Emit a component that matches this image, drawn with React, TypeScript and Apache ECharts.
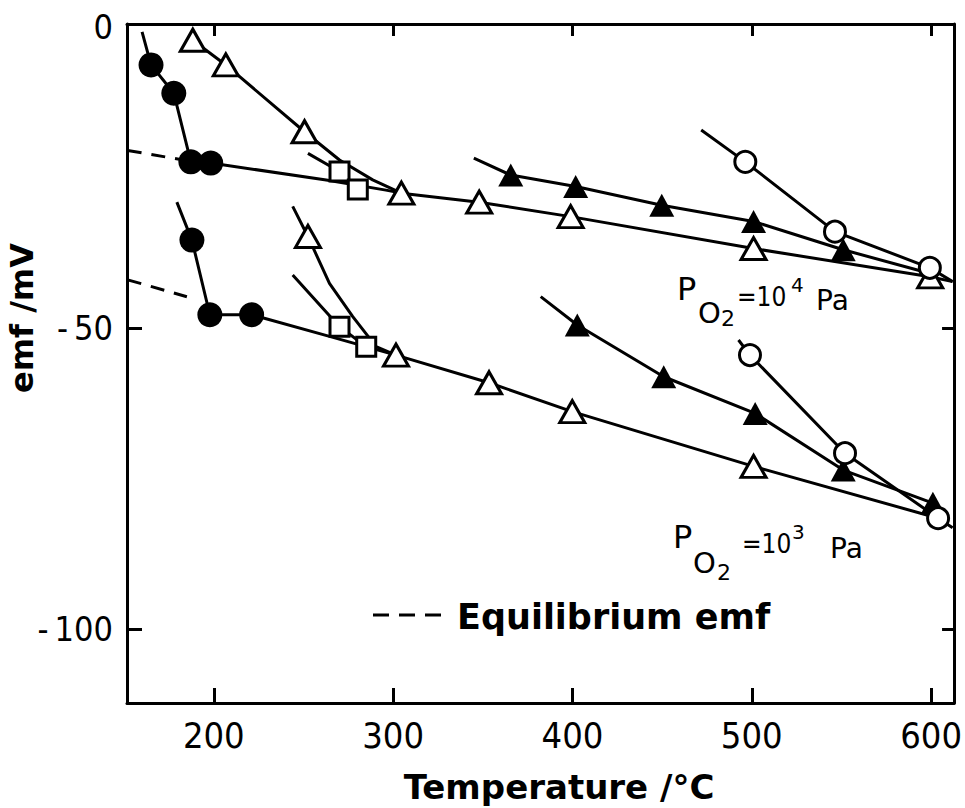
import React, { useEffect, useRef } from "react";
import * as echarts from "echarts";

// Each curve: [temperature °C, emf mV, 1 = measured point marker / 0 = curve vertex only]
const upFilledCircles = [[160, -0.8, 0], [165, -6.3, 1], [177.7, -11, 1], [187.2, -22.4, 1], [198.3, -22.6, 1], [262.7, -25.4, 0], [296, -27.1, 0], [304.6, -27.6, 0]];
const upOpenTriangles = [[188.3, -2.2, 1], [206.7, -6.3, 1], [250.6, -17.4, 1], [270.1, -22.1, 0], [288.6, -25.4, 0], [304.6, -27.6, 1], [348, -29.1, 1], [399, -31.5, 1], [501, -36.8, 1], [599.5, -41.5, 1], [612, -42.3, 0]];
const upSquares = [[252.5, -21, 0], [270.1, -24, 1], [280.3, -27, 1]];
const upFilledTriangles = [[345, -21.8, 0], [365.6, -24.6, 1], [401.8, -26.5, 1], [449.8, -29.6, 1], [501, -32.3, 1], [551, -37, 1], [600, -41, 0]];
const upOpenCircles = [[471.8, -17.1, 0], [496.4, -22.4, 1], [546.4, -34, 1], [599.3, -40, 1], [612, -42.3, 0]];
const upEquilibrium = [[152, -20.5], [185, -22.2]];

const loFilledCircles = [[179.4, -29.1, 0], [187.8, -35.4, 1], [197.8, -47.8, 1], [221.1, -47.8, 1], [264.5, -51.4, 0], [301.6, -54.5, 0]];
const loOpenTriangles = [[244, -29.8, 0], [252.5, -34.8, 1], [264.5, -42.6, 0], [277.5, -48.1, 0], [290.5, -53.1, 0], [301.6, -54.5, 1], [353.5, -59.1, 1], [399.9, -63.9, 1], [501, -73, 1], [604, -81.6, 0]];
const loSquares = [[244, -41.2, 0], [270.1, -49.8, 1], [285, -53.1, 1]];
const loFilledTriangles = [[382.3, -44.8, 0], [402.7, -49.5, 1], [450.9, -58.1, 1], [501.9, -64.2, 1], [551, -73.6, 1], [601, -79.1, 1], [604, -81.6, 0]];
const loOpenCircles = [[492.6, -52, 0], [499, -54.5, 1], [552, -70.8, 1], [603.9, -81.6, 1], [612, -83.2, 0]];
const loEquilibrium = [[152, -42], [185, -44.8]];

const xTicks = [200, 300, 400, 500, 600];
const yTicks = [0, -50, -100];

const X_MIN = 151.6, X_MAX = 612.8, Y_MIN = -112.3, Y_MAX = 0.5;

const TICK_FONT = "'DejaVu Sans Condensed', 'DejaVu Sans', sans-serif";
const TEXT_FONT = "'DejaVu Sans', sans-serif";

function curve(pts: number[][], symbol: string, filled: boolean, size: number | number[]) {
  return [
    {
      type: "line",
      data: pts.map((p) => [p[0], p[1]]),
      showSymbol: false,
      symbol: "none",
      lineStyle: { color: "#000", width: 3 },
      z: 2,
      silent: true,
    },
    {
      type: "scatter",
      data: pts.filter((p) => p[2] === 1).map((p) => [p[0], p[1]]),
      symbol,
      symbolSize: size,
      itemStyle: {
        color: filled ? "#000" : "#fff",
        borderColor: "#000",
        borderWidth: filled ? 0 : 3,
        opacity: 1,
      },
      z: 3,
      silent: true,
    },
  ];
}

function dashed(pts: number[][]) {
  return {
    type: "line",
    data: pts,
    showSymbol: false,
    symbol: "none",
    lineStyle: { color: "#000", width: 3, type: [14, 10] },
    z: 2,
    silent: true,
  };
}

export default function App() {
  const ref = useRef<HTMLDivElement>(null);
  useEffect(() => {
    if (!ref.current) return;
    const chart = echarts.init(ref.current, undefined, { renderer: "svg" });
    const axisLine = { show: true, onZero: false, lineStyle: { color: "#000", width: 3 } };
    const txt = (text: string, x: number, y: number, size: number, extra: any = {}) => ({
      type: "text",
      x,
      y,
      style: {
        text,
        fill: "#000",
        font: `${extra.weight || "normal"} ${size}px ${extra.family || TEXT_FONT}`,
        align: extra.align || "center",
        verticalAlign: "middle",
      },
      rotation: extra.rotation || 0,
      z: 10,
    });
    // P_O2 = 10^n Pa built from pieces placed side by side (left x, centre y)
    const pressure = (exp: string, xs: number[], ys: number[]) => [
      txt("P", xs[0], ys[0], 32, { align: "left" }),
      txt("O", xs[1], ys[1], 29, { align: "left" }),
      txt("2", xs[2], ys[2], 22, { align: "left" }),
      txt("=10", xs[3], ys[3], 26, { align: "left", family: TICK_FONT }),
      txt(exp, xs[4], ys[4], 20, { align: "left" }),
      txt("Pa", xs[5], ys[5], 28, { align: "left" }),
    ];
    chart.setOption({
      animation: false,
      backgroundColor: "#fff",
      grid: { left: 127, right: 9, top: 24, bottom: 105, containLabel: false },
      xAxis: [
        {
          type: "value",
          min: X_MIN,
          max: X_MAX,
          position: "bottom",
          axisLine,
          splitLine: { show: false },
          axisTick: { show: true, inside: true, length: 15, lineStyle: { color: "#000", width: 3 }, customValues: xTicks },
          axisLabel: { show: true, customValues: xTicks, color: "#000", fontSize: 36, fontFamily: TICK_FONT, margin: 14 },
        },
        {
          type: "value",
          min: X_MIN,
          max: X_MAX,
          position: "top",
          axisLine,
          splitLine: { show: false },
          axisTick: { show: true, inside: true, length: 12, lineStyle: { color: "#000", width: 3 }, customValues: xTicks },
          axisLabel: { show: false },
        },
      ],
      yAxis: [
        {
          type: "value",
          min: Y_MIN,
          max: Y_MAX,
          position: "left",
          axisLine,
          splitLine: { show: false },
          axisTick: { show: true, inside: true, length: 15, lineStyle: { color: "#000", width: 3 }, customValues: [-50, -100] },
          axisLabel: {
            show: true,
            customValues: yTicks,
            color: "#000",
            fontSize: 34,
            fontFamily: TICK_FONT,
            margin: 14,
            formatter: (v: number) => (v < 0 ? "-\u2009" + Math.abs(v) : String(v)),
          },
        },
        {
          type: "value",
          min: Y_MIN,
          max: Y_MAX,
          position: "right",
          axisLine,
          splitLine: { show: false },
          axisTick: { show: true, inside: true, length: 12, lineStyle: { color: "#000", width: 3 }, customValues: [-50, -100] },
          axisLabel: { show: false },
        },
      ],
      series: [
        dashed(upEquilibrium),
        dashed(loEquilibrium),
        ...curve(upFilledCircles, "circle", true, 25),
        ...curve(upOpenTriangles, "triangle", false, [25, 22]),
        ...curve(upSquares, "rect", false, 19),
        ...curve(upFilledTriangles, "triangle", true, [25, 23]),
        ...curve(upOpenCircles, "circle", false, 21),
        ...curve(loFilledCircles, "circle", true, 25),
        ...curve(loOpenTriangles, "triangle", false, [25, 22]),
        ...curve(loSquares, "rect", false, 19),
        ...curve(loFilledTriangles, "triangle", true, [25, 23]),
        ...curve(loOpenCircles, "circle", false, 21),
      ],
      graphic: [
        // axis titles
        txt("Temperature /°C", 559, 787, 34, { weight: "bold" }),
        txt("emf /mV", 22, 318, 32, { rotation: Math.PI / 2, weight: "bold" }),
        // P_O2 = 10^4 Pa
        ...pressure("4", [677, 698, 721, 737, 791, 816], [289, 313, 318, 297, 285, 300]),
        // P_O2 = 10^3 Pa
        ...pressure("3", [673, 693, 717, 742, 792, 830], [537, 563, 572, 544, 532, 548]),
        // legend
        {
          type: "line",
          shape: { x1: 373, y1: 615, x2: 447, y2: 615 },
          style: { stroke: "#000", lineWidth: 3, lineDash: [16, 10] },
          z: 10,
        },
        txt("Equilibrium emf", 457, 617, 35, { weight: "bold", align: "left" }),
      ],
    });
    return () => chart.dispose();
  }, []);
  return <div ref={ref} style={{ width: 965, height: 808, position: "absolute", left: 0, top: 0 }} />;
}
